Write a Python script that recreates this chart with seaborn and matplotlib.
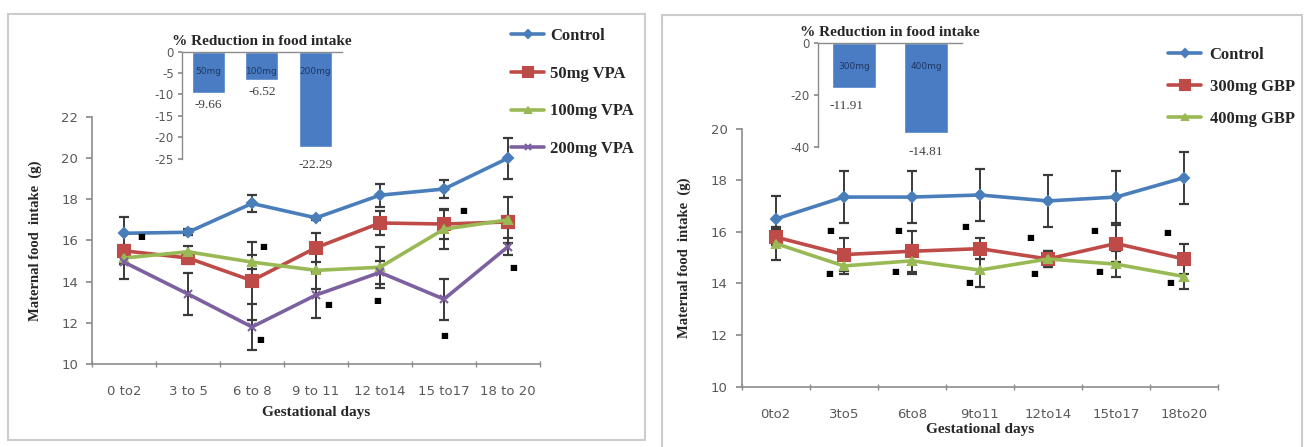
import numpy as np
import pandas as pd
import matplotlib.pyplot as plt
import seaborn as sns
from matplotlib.patches import Rectangle

# ---- data ----
days_left = ["0 to2", "3 to 5", "6 to 8", "9 to 11", "12 to14", "15 to17", "18 to 20"]
days_right = ["0to2", "3to5", "6to8", "9to11", "12to14", "15to17", "18to20"]

control_L = [16.35, 16.4, 17.8, 17.1, 18.2, 18.5, 20.0]
control_L_err = [0.8, 0.15, 0.4, 0.1, 0.55, 0.45, 1.0]
vpa50 = [15.5, 15.15, 14.05, 15.65, 16.85, 16.8, 16.9]
vpa50_err = [0.3, 0.3, 1.9, 0.7, 0.6, 0.75, 0.3]
vpa100 = [15.15, 15.45, 14.95, 14.55, 14.7, 16.55, 17.0]
vpa100_err = [0.3, 0.3, 0.35, 0.9, 1.0, 0.95, 1.1]
vpa200 = [14.95, 13.4, 11.8, 13.35, 14.45, 13.15, 15.7]
vpa200_err = [0.8, 1.0, 1.1, 1.1, 0.55, 1.0, 0.4]

control_R = [16.5, 17.35, 17.35, 17.43, 17.2, 17.35, 18.1]
control_R_err = [0.9, 1.0, 1.0, 1.0, 1.0, 1.0, 1.0]
gbp300 = [15.8, 15.12, 15.25, 15.35, 14.95, 15.55, 14.95]
gbp300_err = [0.3, 0.65, 0.8, 0.4, 0.3, 0.7, 0.6]
gbp400 = [15.55, 14.68, 14.88, 14.52, 14.95, 14.75, 14.27]
gbp400_err = [0.65, 0.3, 0.5, 0.65, 0.3, 0.5, 0.5]

red_L_names = ["50mg", "100mg", "200mg"]
red_L_vals = [-9.66, -6.52, -22.29]
red_L_text = ["-9.66", "-6.52", "-22.29"]
red_R_names = ["300mg", "400mg"]
red_R_vals = [-17.3, -34.6]
red_R_text = ["-11.91", "-14.81"]

# significance marks (x in category units, y in g)
marks_L_x = [0.27, 2.18, 2.13, 3.19, 3.95, 5.3, 5.0, 6.08]
marks_L_y = [16.2, 15.73, 11.2, 12.9, 13.1, 17.48, 11.4, 14.68]
marks_R_x = [0.8, 0.78, 1.8, 1.75, 2.78, 2.85, 3.74, 3.8, 4.68, 4.75, 5.76, 5.8]
marks_R_y = [16.07, 14.37, 16.07, 14.46, 16.2, 14.03, 15.79, 14.37, 16.05, 14.46, 15.97, 14.03]

sns.set_theme(style="white")
plt.rcParams['font.family'] = ['DejaVu Sans']
SERIF = 'Liberation Serif'
TICK_C = '#595959'
AX_C = '#8c8c8c'
BAR_C = '#4a7cc4'


def line_panel(ax, labels, series, errs, names, colors, markers, msizes, ylim):
    rows = []
    for name, vals in zip(names, series):
        for i, v in enumerate(vals):
            rows.append({'pos': i, 'val': v, 'grp': name})
    df = pd.DataFrame(rows)
    for vals, err in zip(series, errs):
        ax.errorbar(range(len(vals)), vals, yerr=err, fmt='none', ecolor='#3a3a3a',
                    elinewidth=1.4, capsize=3.8, capthick=1.6, zorder=1)
    n_before = len(ax.get_lines())
    sns.lineplot(data=df, x='pos', y='val', hue='grp', hue_order=names, palette=colors,
                 linewidth=2.6, ax=ax, zorder=3, legend=False)
    lines = ax.get_lines()[n_before:]
    for line, m, ms, c, name in zip(lines, markers, msizes, colors, names):
        line.set_marker(m)
        line.set_markersize(ms)
        line.set_markerfacecolor(c)
        line.set_markeredgecolor(c)
        line.set_markeredgewidth(1.5)
        line.set_label(name)
    ax.set_xlim(-0.5, len(labels) - 0.5)
    ax.set_ylim(*ylim)
    ax.set_yticks(np.arange(ylim[0], ylim[1] + 0.1, 2))
    ax.set_xticks(range(len(labels)))
    ax.set_xticklabels(labels)
    ax.set_xticks(np.arange(-0.5, len(labels)), minor=True)
    ax.tick_params(axis='x', which='major', length=0, pad=15, labelsize=9.5, labelcolor=TICK_C)
    ax.tick_params(axis='x', which='minor', length=4, direction='inout', color=AX_C, bottom=True)
    ax.tick_params(axis='y', length=4, direction='out', color=AX_C, left=True, pad=6,
                   labelsize=9.5, labelcolor=TICK_C)
    for s in ['top', 'right']:
        ax.spines[s].set_visible(False)
    for s in ['left', 'bottom']:
        ax.spines[s].set_color(AX_C)
        ax.spines[s].set_linewidth(1.2)
    ax.set_ylabel('Maternal food  intake  (g)', fontfamily=SERIF, fontweight='bold',
                  fontsize=10.5, labelpad=14)
    ax.set_xlabel('Gestational days', fontfamily=SERIF, fontweight='bold', fontsize=11)
    return lines


def inset_bars(ax, names, vals, texts, ylim, step, name_y, text_pos):
    sns.barplot(x=names, y=vals, color=BAR_C, saturation=1, width=0.62, ax=ax)
    ticks = np.arange(0, ylim[0] - 0.1, -step)
    ax.set_ylim(*ylim)
    ax.set_yticks(ticks)
    ax.set_yticklabels([str(int(v)) for v in ticks])
    ax.set_xticks([])
    ax.set_xlabel('')
    for s in ['bottom', 'right']:
        ax.spines[s].set_visible(False)
    for s in ['left', 'top']:
        ax.spines[s].set_color(AX_C)
        ax.spines[s].set_linewidth(1.0)
    ax.tick_params(axis='y', length=3, direction='out', color=AX_C, left=True, pad=3,
                   labelsize=8.5, labelcolor=TICK_C)
    ax.patch.set_alpha(0)
    for i, n in enumerate(names):
        ax.text(i, name_y, n, ha='center', va='center', fontsize=6.5, color='#1f3560')
    for (tx, ty), t in zip(text_pos, texts):
        ax.text(tx, ty, t, ha='center', va='center', fontsize=9.5, color='#404040',
                fontfamily=SERIF, clip_on=False)
    ax.set_title('% Reduction in food intake', fontfamily=SERIF, fontweight='bold',
                 fontsize=11, pad=5)


fig = plt.figure(figsize=(13.1, 4.47), dpi=100)

# panel frames
fig.add_artist(Rectangle((8 / 1310, 1 - 440 / 447), 637 / 1310, 426 / 447,
                         transform=fig.transFigure, fill=False, ec='#cccccc', lw=1.5))
fig.add_artist(Rectangle((662 / 1310, -0.02), 640 / 1310, 1 - 15 / 447 + 0.02,
                         transform=fig.transFigure, fill=False, ec='#cccccc', lw=1.5))

colors_L = ['#4a7ebb', '#be4b48', '#98b954', '#7d60a0']
colors_R = ['#4a7ebb', '#be4b48', '#98b954']
names_L = ['Control', '50mg VPA', '100mg VPA', '200mg VPA']
names_R = ['Control', '300mg GBP', '400mg GBP']

axL = fig.add_axes([0.0702, 0.1857, 0.342, 0.5526])
linesL = line_panel(axL, days_left, [control_L, vpa50, vpa100, vpa200],
                    [control_L_err, vpa50_err, vpa100_err, vpa200_err],
                    names_L, colors_L, ['D', 's', '^', 'x'], [5, 9, 6, 6], (10, 22))
axL.xaxis.labelpad = 6
for x, y in zip(marks_L_x, marks_L_y):
    axL.text(x, y, '■', ha='center', va='center', fontsize=6, color='black')

axR = fig.add_axes([0.5662, 0.1349, 0.3636, 0.5772])
linesR = line_panel(axR, days_right, [control_R, gbp300, gbp400],
                    [control_R_err, gbp300_err, gbp400_err],
                    names_R, colors_R, ['D', 's', '^'], [5, 9, 6], (10, 20))
axR.xaxis.labelpad = 2
for x, y in zip(marks_R_x, marks_R_y):
    axR.text(x, y, '■', ha='center', va='center', fontsize=6, color='black')

# legends
fig.legend(linesL, names_L, loc='upper left', bbox_to_anchor=(511 / 1310, 1 - 28 / 447),
           frameon=False, prop={'family': SERIF, 'weight': 'bold', 'size': 12},
           labelspacing=1.3, handlelength=2.0, handletextpad=0.35, borderpad=0,
           borderaxespad=0, markerscale=0.8)
fig.legend(linesR, names_R, loc='upper left', bbox_to_anchor=(1168 / 1310, 1 - 47 / 447),
           frameon=False, prop={'family': SERIF, 'weight': 'bold', 'size': 12},
           labelspacing=0.95, handlelength=2.0, handletextpad=0.5, borderpad=0,
           borderaxespad=0, markerscale=0.8)

# inset bar charts
insL = fig.add_axes([0.1389, 0.6454, 0.1221, 0.239])
inset_bars(insL, red_L_names, red_L_vals, red_L_text, (-25, 0), 5, -4.7,
           [(0, -12.5), (1, -9.4), (2, -26.5)])

insR = fig.add_axes([0.6244, 0.6711, 0.11, 0.232])
inset_bars(insR, red_R_names, red_R_vals, red_R_text, (-40, 0), 20, -9,
           [(-0.1, -24.2), (1, -41.8)])

plt.savefig('out.png', dpi=100)
